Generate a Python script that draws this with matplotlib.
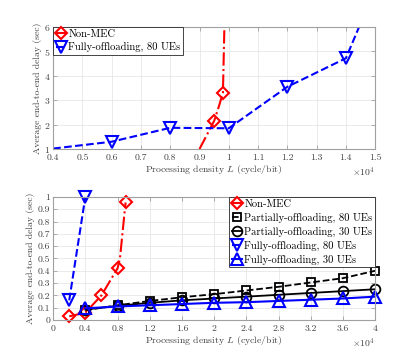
import matplotlib
matplotlib.use("Agg")
import matplotlib.pyplot as plt
from matplotlib.ticker import FuncFormatter

plt.rcParams['font.family'] = ['cmr10', 'DejaVu Serif']
plt.rcParams['mathtext.fontset'] = 'cm'
plt.rcParams['axes.formatter.use_mathtext'] = True

# ---- datos del panel superior (L en cycle/bit) ----
top_nomec_L = [9000, 9500, 9650, 9800, 9850]
top_nomec_d = [1.0, 2.15, 2.7, 3.3, 6.0]
top_nomec_mk = [1, 3]

top_full80_L = [4000, 6000, 8000, 10000, 12000, 14000, 14450]
top_full80_d = [1.02, 1.3, 1.87, 1.85, 3.55, 4.72, 6.0]
top_full80_mk = [1, 2, 3, 4, 5]

# ---- datos del panel inferior ----
nomec_L = [2000, 4000, 6000, 8000, 8300, 9000]
nomec_d = [0.03, 0.06, 0.2, 0.42, 0.5, 0.955]
nomec_mk = [0, 1, 2, 3, 5]

L_grid = [4000, 8000, 12000, 16000, 20000, 24000, 28000, 32000, 36000, 40000]
part80_d = [0.08, 0.12, 0.155, 0.185, 0.21, 0.24, 0.27, 0.305, 0.34, 0.40]
part30_d = [0.085, 0.115, 0.14, 0.16, 0.175, 0.19, 0.205, 0.22, 0.235, 0.25]
full30_d = [0.095, 0.11, 0.12, 0.13, 0.14, 0.145, 0.155, 0.165, 0.175, 0.19]

full80_L = [2000, 4000]
full80_d = [0.16, 1.0]

tick_col = '#404040'
edge_col = '#a0a0a0'
fmt = FuncFormatter(lambda v, p: '%g' % (v / 1e4))

fig = plt.figure(figsize=(4.15, 3.6), dpi=100)
ax1 = fig.add_axes([0.128, 0.586, 0.776, 0.339])
ax2 = fig.add_axes([0.128, 0.111, 0.776, 0.342])


def estilo(ax, ylab_x):
    ax.grid(True, color='#e6e6e6', linewidth=0.6)
    ax.set_axisbelow(True)
    for s in ax.spines.values():
        s.set_color(edge_col)
        s.set_linewidth(0.8)
    ax.tick_params(direction='in', length=3, width=0.6, colors=edge_col,
                   labelcolor=tick_col, labelsize=7, top=True, right=True)
    ax.tick_params(axis='x', pad=3)
    ax.tick_params(axis='y', pad=2)
    ax.xaxis.set_major_formatter(fmt)
    ax.set_xlabel(r'Processing density $L$ (cycle/bit)', fontsize=7,
                  color=tick_col, labelpad=1)
    # etiqueta del eje y colocada a mano
    ax.text(ylab_x, 0.5, 'Average end-to-end delay (sec)', transform=ax.transAxes,
            rotation=90, fontsize=7, color=tick_col, ha='center', va='center')
    ax.text(1.0, -0.19, r'$\times10^{4}$', transform=ax.transAxes,
            fontsize=7, color=tick_col, ha='right', va='center')


# panel superior
ax1.plot(top_nomec_L, top_nomec_d, color='red', linestyle='-.', linewidth=1.5,
         marker='D', markersize=6, markerfacecolor='none', markeredgewidth=1.5,
         markevery=top_nomec_mk, label='Non-MEC')
ax1.plot(top_full80_L, top_full80_d, color='blue', linestyle='--', linewidth=1.5,
         marker='v', markersize=8, markerfacecolor='none', markeredgewidth=1.5,
         markevery=top_full80_mk, label='Fully-offloading, 80 UEs')
ax1.set_xlim(4000, 15000)
ax1.set_ylim(1, 6)
ax1.set_xticks([4000 + 1000 * i for i in range(12)])
ax1.set_yticks([1, 2, 3, 4, 5, 6])
estilo(ax1, -0.047)
leg1 = ax1.legend(loc='upper left', fontsize=7.6, handlelength=1.0,
                  handletextpad=0.2, borderpad=0.25, labelspacing=0.3,
                  borderaxespad=0, fancybox=False, framealpha=1)
leg1.get_frame().set_edgecolor('#262626')
leg1.get_frame().set_linewidth(0.6)

# panel inferior
ax2.plot(nomec_L, nomec_d, color='red', linestyle='-.', linewidth=1.5,
         marker='D', markersize=6, markerfacecolor='none', markeredgewidth=1.5,
         markevery=nomec_mk, label='Non-MEC', clip_on=False)
ax2.plot(L_grid, part80_d, color='black', linestyle='--', linewidth=1.3,
         marker='s', markersize=6, markerfacecolor='none', markeredgewidth=1.3,
         label='Partially-offloading, 80 UEs', clip_on=False)
ax2.plot(L_grid, part30_d, color='black', linestyle='-', linewidth=1.3,
         marker='o', markersize=7, markerfacecolor='none', markeredgewidth=1.3,
         label='Partially-offloading, 30 UEs', clip_on=False)
ax2.plot(full80_L, full80_d, color='blue', linestyle='--', linewidth=1.5,
         marker='v', markersize=8, markerfacecolor='none', markeredgewidth=1.5,
         label='Fully-offloading, 80 UEs', clip_on=False)
ax2.plot(L_grid, full30_d, color='blue', linestyle='-', linewidth=1.5,
         marker='^', markersize=8, markerfacecolor='none', markeredgewidth=1.5,
         label='Fully-offloading, 30 UEs', clip_on=False)
ax2.set_xlim(0, 40000)
ax2.set_ylim(0, 1)
ax2.set_xticks([4000 * i for i in range(11)])
ax2.set_yticks([0.1 * i for i in range(11)])
ax2.yaxis.set_major_formatter(FuncFormatter(lambda v, p: '%g' % round(v, 1)))
estilo(ax2, -0.071)
leg2 = ax2.legend(loc='upper right', fontsize=7.6, handlelength=1.0,
                  handletextpad=0.2, borderpad=0.25, labelspacing=0.35,
                  borderaxespad=0, fancybox=False, framealpha=1)
leg2.get_frame().set_edgecolor('#262626')
leg2.get_frame().set_linewidth(0.6)

fig.savefig('out.png', dpi=100)
